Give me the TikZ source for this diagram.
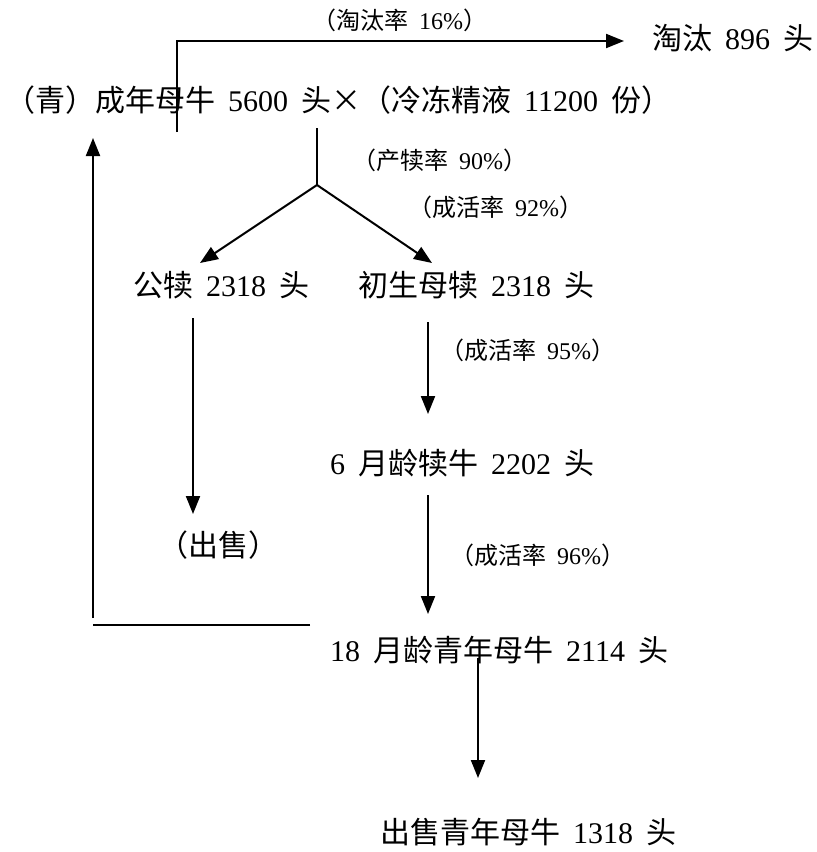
\documentclass[tikz,border=0pt]{standalone}
\usepackage{fontspec}
\setmainfont{Liberation Serif}
\newfontfamily\cjk{Noto Sans CJK SC}
\usetikzlibrary{arrows.meta}
\newcommand\bigfnt{\fontsize{30}{32}\selectfont\spaceskip 13pt\relax}
\newcommand\smallfnt{\fontsize{24}{26}\selectfont\spaceskip 11pt\relax}
\begin{document}
\begin{tikzpicture}[x=1pt,y=-1pt,
 big/.style={font=\bigfnt, inner sep=0pt, anchor=west},
 small/.style={font=\smallfnt, inner sep=0pt, anchor=west},
 arr/.style={line width=2pt, -{Triangle[length=18pt,width=14pt]}},
 ln/.style={line width=2pt}]
\useasboundingbox (0,0) rectangle (817,852);
% texts
\node[small] (l16) at (312,20) {{\cjk （淘汰率} 16\%{\cjk ）}};
\node[big] (tt) at (652,38) {{\cjk 淘汰} 896 {\cjk 头}};
\node[big] (main) at (5,100) {{\cjk （青）成年母牛} 5600 {\cjk 头×（冷冻精液} 11200 {\cjk 份）}};
\node[small] (l90) at (352,160) {{\cjk （产犊率} 90\%{\cjk ）}};
\node[small] (l92) at (408,207) {{\cjk （成活率} 92\%{\cjk ）}};
\node[big] (gd) at (133,285) {{\cjk 公犊} 2318 {\cjk 头}};
\node[big] (cm) at (358,285) {{\cjk 初生母犊} 2318 {\cjk 头}};
\node[small] (l95) at (440,350) {{\cjk （成活率} 95\%{\cjk ）}};
\node[big] (cs) at (158,545) {{\cjk （出售）}};
\node[big] (m6) at (330,463) {6 {\cjk 月龄犊牛} 2202 {\cjk 头}};
\node[small] (l96) at (450,555) {{\cjk （成活率} 96\%{\cjk ）}};
\node[big] (m18) at (330,650) {18 {\cjk 月龄青年母牛} 2114 {\cjk 头}};
\node[big] (sell) at (380,832) {{\cjk 出售青年母牛} 1318 {\cjk 头}};
% coordinates
\coordinate (a0) at (177,132);
\coordinate (a1) at (177,41);
\coordinate (a2) at (624,41);
\coordinate (s0) at (317,128);
\coordinate (s1) at (317,185);
\coordinate (g1) at (200,263);
\coordinate (c1) at (432,263);
\coordinate (b0) at (193,318);
\coordinate (b1) at (193,514);
\coordinate (d0) at (428,322);
\coordinate (d1) at (428,414);
\coordinate (e0) at (428,495);
\coordinate (e1) at (428,614);
\coordinate (f0) at (478,658);
\coordinate (f1) at (478,778);
\coordinate (h0) at (310,625);
\coordinate (h1) at (93,625);
\coordinate (v0) at (93,618);
\coordinate (v1) at (93,138);
% connectors
\draw[arr] (a0) -- (a1) -- (a2);
\draw[ln] (s0) -- (s1);
\draw[arr] (s1) -- (g1);
\draw[arr] (s1) -- (c1);
\draw[arr] (b0) -- (b1);
\draw[arr] (d0) -- (d1);
\draw[arr] (e0) -- (e1);
\draw[arr] (f0) -- (f1);
\draw[ln] (h0) -- (h1);
\draw[arr] (v0) -- (v1);
\end{tikzpicture}
\end{document}
